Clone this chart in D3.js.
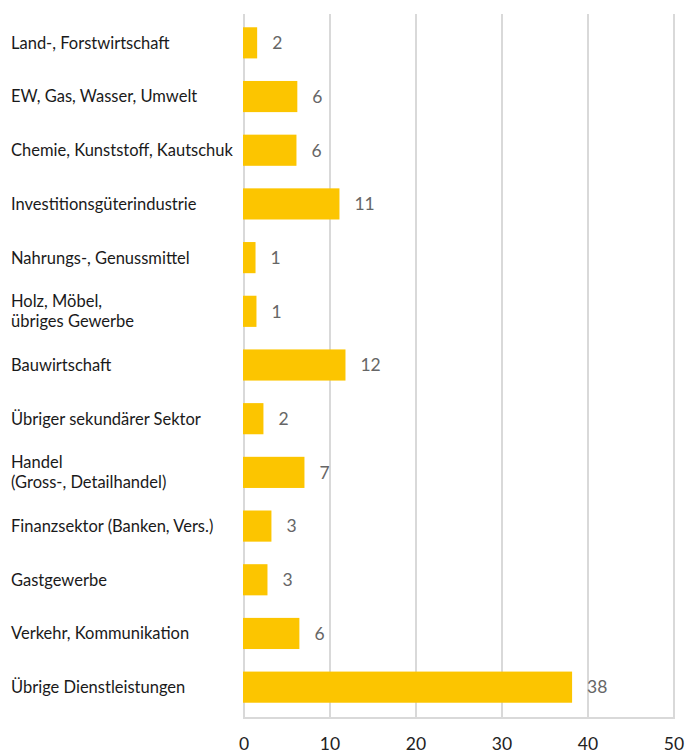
<!DOCTYPE html>
<html><head><meta charset="utf-8">
<script src="https://cdn.jsdelivr.net/npm/d3@7"></script>
<style>body{margin:0;background:#fff}svg{display:block}</style>
</head><body>
<svg id="c" width="686" height="754"></svg>
<script>
const categories = [
  ["Land-, Forstwirtschaft"],
  ["EW, Gas, Wasser, Umwelt"],
  ["Chemie, Kunststoff, Kautschuk"],
  ["Investitionsgüterindustrie"],
  ["Nahrungs-, Genussmittel"],
  ["Holz, Möbel,", "übriges Gewerbe"],
  ["Bauwirtschaft"],
  ["Übriger sekundärer Sektor"],
  ["Handel", "(Gross-, Detailhandel)"],
  ["Finanzsektor (Banken, Vers.)"],
  ["Gastgewerbe"],
  ["Verkehr, Kommunikation"],
  ["Übrige Dienstleistungen"]
];
const values = [1.53, 6.2, 6.1, 11.1, 1.34, 1.45, 11.8, 2.26, 7.03, 3.19, 2.73, 6.44, 38.15];
const xTicks = [0, 10, 20, 30, 40, 50];

const svg = d3.select("#c");
const font = "Lato, 'Open Sans', sans-serif";
const x = d3.scaleLinear().domain([0, 50]).range([244, 674]);
const y = d3.scaleBand().domain(d3.range(categories.length)).range([16, 714]).paddingInner(0.42).paddingOuter(0.21);

// grid
svg.append("g").selectAll("line").data(xTicks).join("line")
  .attr("x1", d => x(d)).attr("x2", d => x(d))
  .attr("y1", 14).attr("y2", 718)
  .attr("stroke", "#d9d9d9").attr("stroke-width", 2);
svg.append("line").attr("x1", x(0) - 1).attr("x2", x(50) + 1).attr("y1", 718).attr("y2", 718)
  .attr("stroke", "#d9d9d9").attr("stroke-width", 2);

// bars
svg.append("g").selectAll("rect").data(values).join("rect")
  .attr("x", x(0) - 1).attr("y", (d, i) => y(i))
  .attr("width", d => x(d) - x(0) + 1).attr("height", y.bandwidth())
  .attr("fill", "#fcc500");

// value labels
svg.append("g").selectAll("text").data(values).join("text")
  .attr("x", d => x(d) + 15).attr("y", (d, i) => y(i) + y.bandwidth() / 2)
  .attr("dy", "0.36em")
  .attr("font-family", font).attr("font-size", 17.5).attr("fill", "#666")
  .text(d => Math.round(d));

// category labels
const cl = svg.append("g").selectAll("text").data(categories).join("text")
  .attr("font-family", font).attr("font-size", 16.5).attr("fill", "#1a1a1a")
  .attr("x", 11)
  .attr("y", (d, i) => y(i) + y.bandwidth() / 2);
cl.selectAll("tspan").data(d => d.map((t, j) => ({t, j, n: d.length}))).join("tspan")
  .attr("x", 11)
  .attr("dy", p => p.j === 0 ? (0.36 - (p.n - 1) * 0.6) + "em" : "1.2em")
  .text(p => p.t);

// x tick labels
svg.append("g").selectAll("text").data(xTicks).join("text")
  .attr("x", d => x(d)).attr("y", 750)
  .attr("text-anchor", "middle")
  .attr("font-family", font).attr("font-size", 17.5).attr("fill", "#222")
  .text(d => d);
</script>
</body></html>
